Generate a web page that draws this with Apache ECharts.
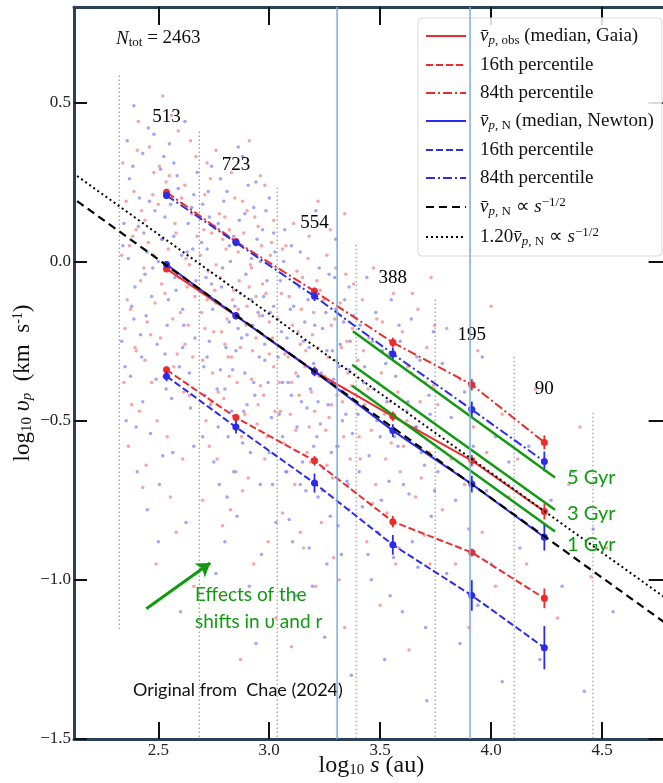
<!DOCTYPE html>
<html><head><meta charset="utf-8">
<script src="https://cdn.jsdelivr.net/npm/echarts@6/dist/echarts.min.js"></script>
<style>html,body{margin:0;padding:0;background:#fff}#c{width:663px;height:783px}</style>
</head><body><div id="c"></div>
<script>
// ---------------- data (log10 s in au, log10 v_p in km/s) ----------------
const binCenters = [2.537, 2.850, 3.204, 3.557, 3.913, 4.240];
const binCounts  = [513, 723, 554, 388, 195, 90];
const countLabelY = [0.454, 0.302, 0.121, -0.053, -0.231, -0.399];

const obsMedian = [-0.023, -0.170, -0.345, -0.486, -0.625, -0.785];
const obsP16    = [-0.340, -0.490, -0.626, -0.817, -0.914, -1.058];
const obsP84    = [0.218, 0.063, -0.093, -0.254, -0.387, -0.568];
const newMedian = [-0.009, -0.170, -0.345, -0.531, -0.699, -0.866];
const newP16    = [-0.360, -0.520, -0.696, -0.890, -1.049, -1.213];
const newP84    = [0.208, 0.060, -0.109, -0.290, -0.465, -0.628];

const obsMedianErr = [0.008, 0.010, 0.012, 0.015, 0.018, 0.025];
const obsP16Err    = [0.010, 0.012, 0.015, 0.018, 0.012, 0.031];
const obsP84Err    = [0.010, 0.010, 0.012, 0.015, 0.018, 0.022];
const newMedianErr = [0.010, 0.012, 0.015, 0.020, 0.026, 0.042];
const newP16Err    = [0.016, 0.020, 0.030, 0.031, 0.048, 0.068];
const newP84Err    = [0.010, 0.012, 0.015, 0.020, 0.025, 0.031];

const powerLaw     = [[2.134, 0.190], [4.800, -1.143]];   // v_N ∝ s^-1/2
const powerLaw120  = [[2.134, 0.269], [4.800, -1.064]];   // 1.20 v_N ∝ s^-1/2

const binEdges   = [2.324, 2.685, 3.036, 3.392, 3.748, 4.104, 4.459];
const edgeTops   = [0.585, 0.409, 0.233, 0.053, -0.119, -0.299, -0.475];
const edgeBottom = [-1.160, -1.5, -1.5, -1.5, -1.5, -1.5, -1.5];

const blueMarkers = [3.306, 3.905];

const gyr5 = [[3.377, -0.219], [4.288, -0.678]];
const gyr3 = [[3.374, -0.324], [4.288, -0.780]];
const gyr1 = [[3.374, -0.390], [4.288, -0.848]];
const gyrLabels = [[4.342, -0.679, '5 Gyr'], [4.342, -0.792, '3 Gyr'], [4.342, -0.890, '1 Gyr']];

const shiftArrow = [[2.446, -1.091], [2.734, -0.947]];

const obsCloud = [
[2.34,0.31],[2.36,-0.12],[2.37,0.05],[2.38,-0.45],[2.39,0.22],[2.40,-0.28],[2.41,0.44],[2.42,-0.06],[2.43,-0.71],[2.44,0.13],[2.45,-0.19],[2.46,0.36],[2.47,-0.38],[2.48,0.02],[2.49,-0.95],[2.50,0.18],[2.51,-0.24],[2.52,0.52],[2.53,-0.10],[2.54,-0.55],[2.55,0.27],[2.56,-0.03],[2.57,-0.33],[2.58,0.09],[2.59,0.41],[2.60,-0.16],[2.61,-0.62],[2.62,0.24],[2.63,-0.08],[2.64,-0.42],[2.65,0.15],[2.66,-1.02],[2.67,0.33],[2.35,-0.21],[2.44,-0.31],[2.52,0.07],[2.58,-0.85],[2.62,-0.26],[2.40,0.10],[2.48,0.28],[2.56,0.46],[2.64,-0.01],
[2.335,0.02],[2.345,-0.38],[2.355,0.19],[2.365,-0.58],[2.375,-0.15],[2.385,0.08],[2.395,-0.27],[2.405,0.35],[2.415,-0.47],[2.425,0.16],[2.435,-0.02],[2.445,-0.64],[2.455,0.06],[2.465,-0.23],[2.475,0.21],[2.485,-0.13],[2.495,-0.50],[2.505,0.30],[2.515,-0.07],[2.525,-0.36],[2.535,0.25],[2.545,0.04],[2.555,-0.74],[2.565,-0.18],[2.575,0.12],[2.585,-0.29],[2.595,-0.05],[2.605,0.20],[2.615,-0.41],[2.625,0.01],[2.635,-0.20],[2.645,0.38],[2.655,-0.30],[2.665,-0.11],[2.675,0.08],
[2.69,0.02],[2.70,-0.31],[2.71,0.21],[2.72,-0.12],[2.73,-0.58],[2.74,0.09],[2.75,-0.22],[2.76,0.35],[2.77,-0.41],[2.78,-0.05],[2.79,-0.83],[2.80,0.14],[2.81,-0.18],[2.82,-0.36],[2.83,0.28],[2.84,-0.09],[2.85,-0.66],[2.86,0.03],[2.87,-0.27],[2.88,0.19],[2.89,-0.48],[2.90,-0.14],[2.91,0.38],[2.92,-0.02],[2.93,-0.95],[2.94,-0.24],[2.95,0.11],[2.96,-0.39],[2.97,-0.07],[2.98,0.24],[2.99,-0.55],[3.00,-0.19],[3.01,0.06],[3.02,-0.33],[3.03,-1.12],[2.70,-0.75],[2.72,0.31],[2.74,-0.44],[2.76,-0.01],[2.78,-1.05],[2.80,-0.26],[2.82,0.10],[2.84,-0.52],[2.86,-0.15],[2.88,-0.72],[2.90,0.16],[2.92,-0.37],[2.94,-0.11],[2.96,0.27],[2.98,-0.62],[3.00,-0.29],[3.02,0.13],[2.71,-0.21],[2.79,0.07],[2.87,-1.25],[2.95,-0.45],[2.83,-0.30],[2.91,-0.08],
[2.695,-0.16],[2.705,0.10],[2.715,-0.50],[2.725,-0.03],[2.735,0.26],[2.745,-0.35],[2.755,-0.09],[2.765,-0.62],[2.775,0.15],[2.785,-0.22],[2.795,-0.43],[2.805,0.04],[2.815,-0.30],[2.825,-0.78],[2.835,-0.12],[2.845,0.20],[2.855,-0.38],[2.865,-0.06],[2.875,-0.55],[2.885,0.09],[2.895,-0.20],[2.905,-0.68],[2.915,-0.01],[2.925,-0.28],[2.935,0.14],[2.945,-0.51],[2.955,-0.17],[2.965,0.05],[2.975,-0.42],[2.985,-0.10],[2.995,-0.88],[3.005,0.02],[3.015,-0.24],[3.025,-0.47],
[3.04,-0.18],[3.05,-0.47],[3.06,0.04],[3.07,-0.29],[3.08,-0.66],[3.09,-0.11],[3.10,-0.38],[3.11,0.12],[3.12,-0.53],[3.13,-0.22],[3.14,-0.85],[3.15,-0.05],[3.16,-0.33],[3.17,-0.60],[3.18,0.08],[3.19,-0.41],[3.20,-0.16],[3.21,-1.02],[3.22,-0.27],[3.23,-0.09],[3.24,-0.72],[3.25,-0.36],[3.26,0.02],[3.27,-0.49],[3.28,-0.20],[3.29,-0.93],[3.30,-0.31],[3.31,-0.58],[3.32,-0.13],[3.33,-0.44],[3.34,0.15],[3.35,-0.25],[3.36,-0.78],[3.37,-0.39],[3.38,-0.07],[3.06,-0.79],[3.10,-1.21],[3.14,-0.26],[3.18,-0.52],[3.22,0.19],[3.26,-0.64],[3.30,-0.02],[3.34,-1.15],[3.12,-0.35],[3.28,-0.45],
[3.045,-0.38],[3.055,-0.10],[3.065,-0.57],[3.075,0.05],[3.085,-0.30],[3.095,-0.48],[3.105,-0.20],[3.115,-0.70],[3.125,-0.03],[3.135,-0.42],[3.145,-0.15],[3.155,-0.90],[3.165,-0.28],[3.175,0.01],[3.185,-0.63],[3.195,-0.23],[3.205,-0.47],[3.215,-0.06],[3.225,-0.36],[3.235,-0.82],[3.245,-0.12],[3.255,-0.53],[3.265,-0.30],[3.275,0.10],[3.285,-0.68],[3.295,-0.18],[3.305,-0.42],[3.315,-1.00],[3.325,-0.27],[3.335,-0.55],[3.345,-0.04],[3.355,-0.35],[3.365,-0.62],[3.375,-0.21],
[3.40,-0.31],[3.41,-0.62],[3.42,-0.12],[3.43,-0.45],[3.44,-0.88],[3.45,-0.24],[3.46,-0.53],[3.47,-0.02],[3.48,-0.70],[3.49,-0.38],[3.50,-1.08],[3.51,-0.19],[3.52,-0.48],[3.53,-0.79],[3.54,-0.29],[3.55,-0.57],[3.56,-0.10],[3.57,-0.95],[3.58,-0.41],[3.59,-0.66],[3.60,-0.22],[3.62,-0.50],[3.63,-1.22],[3.64,-0.35],[3.66,-0.74],[3.67,-0.15],[3.68,-0.44],[3.70,-0.86],[3.71,-0.27],[3.72,-0.60],[3.73,-0.05],[3.74,-0.39],
[3.405,-0.55],[3.425,-0.28],[3.445,-0.40],[3.465,-0.76],[3.485,-0.18],[3.505,-0.35],[3.525,-0.62],[3.545,-0.44],[3.565,-0.25],[3.585,-0.90],[3.605,-0.58],[3.625,-0.33],[3.645,-0.10],[3.665,-0.52],[3.685,-0.68],[3.705,-0.38],[3.725,-0.95],[3.745,-0.20],
[3.76,-0.45],[3.78,-0.78],[3.80,-0.21],[3.82,-0.62],[3.84,-0.95],[3.86,-0.37],[3.88,-0.70],[3.90,-1.15],[3.92,-0.52],[3.94,-0.28],[3.96,-0.85],[3.98,-0.60],[4.00,-0.14],[4.02,-1.02],[4.05,-0.48],[4.08,-0.74],
[4.12,-0.62],[4.16,-0.95],[4.20,-0.40],[4.25,-0.83],[4.30,-1.12],[4.35,-0.70],[4.40,-0.52],[4.45,-0.99],[4.52,-0.90]
];
const newtonCloud = [
[2.34,0.05],[2.35,-0.33],[2.37,0.26],[2.38,-0.14],[2.39,0.49],[2.40,-0.52],[2.41,0.11],[2.42,-0.23],[2.43,0.34],[2.44,-0.04],[2.45,-0.78],[2.46,0.19],[2.47,-0.11],[2.48,0.40],[2.49,-0.37],[2.50,0.00],[2.51,0.29],[2.52,-0.61],[2.53,0.14],[2.54,-0.20],[2.55,0.37],[2.56,-0.43],[2.57,0.08],[2.58,-0.09],[2.59,0.23],[2.60,-1.10],[2.61,-0.27],[2.62,0.44],[2.63,0.03],[2.64,-0.35],[2.65,0.17],[2.66,-0.58],[2.67,-0.06],[2.36,0.38],[2.43,-0.44],[2.50,-0.88],[2.57,0.31],[2.61,-0.15],[2.45,0.03],[2.53,-0.29],[2.66,0.21],[2.39,-0.18],
[2.335,-0.25],[2.345,0.12],[2.355,-0.50],[2.365,0.01],[2.375,-0.36],[2.385,0.30],[2.395,-0.08],[2.405,-0.66],[2.415,0.20],[2.425,-0.30],[2.435,0.09],[2.445,-0.17],[2.455,0.42],[2.465,-0.54],[2.475,-0.02],[2.485,0.16],[2.495,-0.26],[2.505,-0.70],[2.515,0.07],[2.525,0.33],[2.535,-0.40],[2.545,-0.12],[2.555,0.18],[2.565,-0.60],[2.575,-0.05],[2.585,0.27],[2.595,-0.33],[2.605,0.02],[2.615,-0.20],[2.625,-0.82],[2.635,0.12],[2.645,-0.46],[2.655,0.04],[2.665,-0.24],[2.675,0.28],
[2.69,-0.09],[2.70,0.18],[2.71,-0.42],[2.72,0.04],[2.73,-0.25],[2.74,0.30],[2.75,-0.63],[2.76,-0.13],[2.77,0.12],[2.78,-0.34],[2.79,-0.02],[2.80,-0.88],[2.81,0.22],[2.82,-0.19],[2.83,-0.47],[2.84,0.08],[2.85,-0.28],[2.86,0.36],[2.87,-0.10],[2.88,-0.57],[2.89,0.15],[2.90,-0.23],[2.91,-1.02],[2.92,0.01],[2.93,-0.38],[2.94,0.25],[2.95,-0.16],[2.96,-0.70],[2.97,0.10],[2.98,-0.31],[2.99,-0.06],[3.00,0.20],[3.01,-0.49],[3.02,-0.14],[3.03,-0.82],[2.70,-0.55],[2.72,-0.30],[2.74,-0.07],[2.76,-0.98],[2.78,0.26],[2.80,-0.40],[2.82,0.05],[2.84,-0.66],[2.86,-0.21],[2.88,0.33],[2.90,-0.45],[2.92,-0.12],[2.94,-1.20],[2.96,0.00],[2.98,-0.26],[3.00,-0.60],[3.02,0.09],[2.73,0.14],[2.81,-0.74],[2.89,-0.35],[2.97,-0.17],[2.77,-0.52],[2.93,0.17],
[2.695,0.06],[2.705,-0.33],[2.715,-0.05],[2.725,0.22],[2.735,-0.45],[2.745,-0.15],[2.755,0.11],[2.765,-0.40],[2.775,-0.70],[2.785,-0.08],[2.795,0.19],[2.805,-0.27],[2.815,-0.55],[2.825,0.00],[2.835,-0.34],[2.845,-0.14],[2.855,-0.80],[2.865,0.13],[2.875,-0.24],[2.885,-0.47],[2.895,-0.04],[2.905,0.24],[2.915,-0.60],[2.925,-0.20],[2.935,-0.42],[2.945,0.07],[2.955,-0.30],[2.965,-0.92],[2.975,-0.11],[2.985,0.16],[2.995,-0.38],[3.005,-0.16],[3.015,-0.70],[3.025,0.03],
[3.04,-0.30],[3.05,-0.06],[3.06,-0.55],[3.07,0.10],[3.08,-0.24],[3.09,-0.81],[3.10,-0.42],[3.11,-0.14],[3.12,-1.05],[3.13,-0.36],[3.14,0.03],[3.15,-0.63],[3.16,-0.19],[3.17,-0.46],[3.18,-0.90],[3.19,-0.10],[3.20,-0.32],[3.21,0.16],[3.22,-0.74],[3.23,-0.51],[3.24,-0.21],[3.25,-1.18],[3.26,-0.28],[3.27,-0.04],[3.28,-0.60],[3.29,-0.37],[3.30,0.07],[3.31,-0.83],[3.32,-0.26],[3.33,-0.50],[3.34,-0.12],[3.35,-0.69],[3.36,-0.34],[3.37,-1.30],[3.38,-0.17],[3.06,-0.38],[3.10,0.05],[3.14,-0.70],[3.18,-0.27],[3.22,-0.44],[3.26,-0.95],[3.30,-0.15],[3.34,-0.40],[3.20,-0.58],[3.36,-0.08],
[3.045,-0.48],[3.055,-0.22],[3.065,0.00],[3.075,-0.66],[3.085,-0.38],[3.095,-0.15],[3.105,-0.88],[3.115,-0.30],[3.125,-0.52],[3.135,-0.08],[3.145,-0.44],[3.155,-0.25],[3.165,-0.72],[3.175,-0.12],[3.185,-0.40],[3.195,-1.02],[3.205,-0.20],[3.215,-0.55],[3.225,-0.02],[3.235,-0.35],[3.245,-0.65],[3.255,-0.16],[3.265,-0.45],[3.275,-0.80],[3.285,-0.28],[3.295,-0.05],[3.305,-0.58],[3.315,-0.33],[3.325,-0.92],[3.335,-0.19],[3.345,-0.48],[3.355,-0.70],[3.365,-0.25],[3.375,-0.54],
[3.40,-0.48],[3.41,-0.20],[3.42,-0.77],[3.43,-0.33],[3.44,-0.05],[3.45,-0.61],[3.46,-1.00],[3.47,-0.40],[3.48,-0.16],[3.49,-0.85],[3.50,-0.55],[3.51,-0.28],[3.52,-1.25],[3.53,-0.44],[3.54,-0.69],[3.55,-0.12],[3.56,-0.93],[3.57,-0.36],[3.58,-0.58],[3.59,-0.25],[3.60,-1.10],[3.62,-0.47],[3.63,-0.73],[3.64,-0.18],[3.66,-0.52],[3.67,-0.96],[3.68,-0.31],[3.70,-0.64],[3.71,-1.38],[3.72,-0.42],[3.73,-0.80],[3.74,-0.22],
[3.405,-0.66],[3.425,-0.38],[3.445,-0.92],[3.465,-0.25],[3.485,-0.50],[3.505,-0.75],[3.525,-0.32],[3.545,-1.05],[3.565,-0.55],[3.585,-0.20],[3.605,-0.70],[3.625,-0.44],[3.645,-0.88],[3.665,-0.30],[3.685,-0.60],[3.705,-1.15],[3.725,-0.48],[3.745,-0.72],
[3.76,-0.66],[3.78,-0.32],[3.80,-0.98],[3.82,-0.49],[3.84,-0.75],[3.86,-1.20],[3.88,-0.41],[3.90,-0.84],[3.92,-0.58],[3.94,-1.08],[3.96,-0.30],[3.98,-0.72],[4.00,-0.95],[4.02,-0.55],[4.05,-1.32],[4.08,-0.63],
[4.13,-0.90],[4.17,-0.58],[4.22,-1.25],[4.27,-0.75],[4.32,-1.02],[4.37,-0.66],[4.42,-1.35],[4.46,-0.84],[4.55,-1.10]
];

const xTicks = [2.5, 3.0, 3.5, 4.0, 4.5];
const yTicks = [-1.5, -1.0, -0.5, 0.0, 0.5];

// ---------------- styling ----------------
const RED = '#ee2b2b', BLUE = '#2b2bee', GREEN = '#109a10', FRAME = '#2c4058';
const SERIF = 'Liberation Serif', SANS = 'Lato';

const legendText = {
  obsMed: '{g| }{vi|v\u0304}{sbi|p}{sb|, obs} (median, Gaia)',
  obs16: '{g| }16th percentile',
  obs84: '{g| }84th percentile',
  newMed: '{g| }{vi|v\u0304}{sbi|p}{sb|, N} (median, Newton)',
  new16: '{g| }16th percentile',
  new84: '{g| }84th percentile',
  pow: '{g| }{vi|v\u0304}{sbi|p}{sb|, N} \u221D {vi|s}{sp|\u22121/2}',
  pow120: '{g| }1.20{vi|v\u0304}{sbi|p}{sb|, N} \u221D {vi|s}{sp|\u22121/2}'
};

function pctLine(name, ys, color, dash, z) {
  return {
    type: 'line', name, z,
    data: binCenters.map((x, i) => [x, ys[i]]),
    symbol: 'circle', symbolSize: 7, showSymbol: true,
    itemStyle: { color },
    lineStyle: { color, width: 2, type: dash },
    silent: true, animation: false
  };
}
function errBars(xs, ys, es, color, z) {
  return {
    type: 'custom', z, silent: true, animation: false,
    data: xs.map((x, i) => [x, ys[i], es[i]]),
    encode: { x: 0, y: 1 },
    renderItem: (params, api) => {
      const a = api.coord([api.value(0), api.value(1) - api.value(2)]);
      const b = api.coord([api.value(0), api.value(1) + api.value(2)]);
      return { type: 'line', shape: { x1: a[0], y1: a[1], x2: b[0], y2: b[1] },
               style: { stroke: color, lineWidth: 1.8 } };
    }
  };
}
function greenLine(d) {
  return { type: 'line', data: d, symbol: 'none', z: 6, silent: true, animation: false,
           lineStyle: { color: GREEN, width: 2.5 } };
}

const chart = echarts.init(document.getElementById('c'), null, { renderer: 'canvas' });

const tickStyle = { show: true, inside: true, lineStyle: { color: '#111', width: 2 } };

chart.setOption({
  animation: false,
  backgroundColor: '#fff',
  textStyle: { fontFamily: SERIF },
  grid: { left: 74, right: -5.6, top: 7, bottom: 44, containLabel: false, outerBoundsMode: 'none' },
  xAxis: [{
    type: 'value', min: 2.12, max: 4.8, position: 'bottom',
    axisLine: { show: true, onZero: false, lineStyle: { color: FRAME, width: 3 } },
    axisTick: Object.assign({}, tickStyle, { length: 17, customValues: xTicks }),
    axisLabel: { customValues: xTicks, formatter: v => v.toFixed(1), fontFamily: SERIF, fontSize: 17, color: '#222', margin: 3 },
    splitLine: { show: false },
    name: 'log{sb|10} {i|s} (au)', nameLocation: 'middle', nameGap: 15, nameMoveOverlap: false,
    nameTextStyle: { fontFamily: SERIF, fontSize: 24, color: '#111',
      rich: { sb: { fontFamily: SERIF, fontSize: 15, padding: [9, 0, 0, 0] },
              i: { fontFamily: SERIF, fontSize: 24, fontStyle: 'italic' } } }
  }, {
    type: 'value', min: 2.12, max: 4.8, position: 'top',
    axisLine: { show: true, onZero: false, lineStyle: { color: FRAME, width: 3 } },
    axisTick: Object.assign({}, tickStyle, { length: 18, customValues: xTicks }),
    axisLabel: { show: false }, splitLine: { show: false }
  }],
  yAxis: [{
    type: 'value', min: -1.5, max: 0.8, position: 'left',
    axisLine: { show: true, onZero: false, lineStyle: { color: FRAME, width: 3 } },
    axisTick: Object.assign({}, tickStyle, { length: 13, customValues: yTicks }),
    axisLabel: { customValues: yTicks, formatter: v => v.toFixed(1).replace('-', '\u2212'),
                 fontFamily: SERIF, fontSize: 17, color: '#222', margin: 3 },
    splitLine: { show: false },
    name: 'log{sb|10} {i|\u03C5}{sbi|p}  (km  s{sp|-1})', nameLocation: 'middle', nameGap: 39, nameRotate: 90,
    nameMoveOverlap: false,
    nameTextStyle: { fontFamily: SERIF, fontSize: 23, color: '#111', padding: [0, 20, 0, 0],
      rich: { sb: { fontFamily: SERIF, fontSize: 15, padding: [9, 0, 0, 0] },
              sbi: { fontFamily: SERIF, fontSize: 15, fontStyle: 'italic', padding: [9, 0, 0, 0] },
              sp: { fontFamily: SERIF, fontSize: 14, padding: [0, 0, 10, 0] },
              i: { fontFamily: SERIF, fontSize: 24, fontStyle: 'italic' } } }
  }, {
    type: 'value', min: -1.5, max: 0.8, position: 'right',
    axisLine: { show: false },
    axisTick: Object.assign({}, tickStyle, { length: 20, customValues: yTicks }),
    axisLabel: { show: false }, splitLine: { show: false }
  }],
  legend: {
    orient: 'vertical', left: 418, top: 18,
    padding: [8, 8, 8, 7], itemWidth: 40, itemHeight: 14, itemGap: 8,
    backgroundColor: 'rgba(255,255,255,0.85)', borderColor: '#d9d9d9', borderWidth: 1, borderRadius: 4,
    itemStyle: { opacity: 0 },
    data: ['obsMed', 'obs16', 'obs84', 'newMed', 'new16', 'new84', 'pow', 'pow120'],
    formatter: n => legendText[n],
    selectedMode: false,
    textStyle: { fontFamily: SERIF, fontSize: 19, color: '#111', lineHeight: 20,
      rich: {
        g: { width: 9 },
        vi: { fontFamily: SERIF, fontSize: 19, fontStyle: 'italic' },
        sbi: { fontFamily: SERIF, fontSize: 13, fontStyle: 'italic', padding: [9, 0, 0, 0] },
        sb: { fontFamily: SERIF, fontSize: 13, padding: [9, 0, 0, 0] },
        sp: { fontFamily: SERIF, fontSize: 13, padding: [0, 0, 9, 0] }
      } }
  },
  graphic: [
    { type: 'text', left: 116, top: 29, silent: true,
      style: { text: '{i|N}{sb|tot} = 2463', fill: '#111', font: '19px "Liberation Serif"',
        rich: { i: { fontFamily: SERIF, fontSize: 19, fontStyle: 'italic' },
                sb: { fontFamily: SERIF, fontSize: 13, padding: [9, 0, 0, 0] } } } },
    { type: 'text', left: 195, top: 581, silent: true,
      style: { text: 'Effects of the\nshifts in \u03C5 and r', fill: GREEN, font: '19px Lato', lineHeight: 27 } },
    { type: 'text', left: 133, top: 681, silent: true,
      style: { text: 'Original from  Chae (2024)', fill: '#111', font: '18px Lato' } }
  ],
  series: [
    { type: 'scatter', data: obsCloud, symbolSize: 3.5, silent: true, z: 1,
      itemStyle: { color: 'rgba(240,90,90,0.55)', opacity: 1 } },
    { type: 'scatter', data: newtonCloud, symbolSize: 3.5, silent: true, z: 1,
      itemStyle: { color: 'rgba(90,90,240,0.55)', opacity: 1 } },
    { type: 'custom', silent: true, z: 1, animation: false,
      data: binEdges.map((x, i) => [x, edgeTops[i], edgeBottom[i]]),
      encode: { x: 0, y: 1 },
      renderItem: (params, api) => {
        const a = api.coord([api.value(0), api.value(1)]);
        const b = api.coord([api.value(0), api.value(2)]);
        return { type: 'line', shape: { x1: a[0], y1: a[1], x2: b[0], y2: b[1] },
                 style: { stroke: '#9a9a9a', lineWidth: 1.2, lineDash: [1.5, 2.5] } };
      } },
    { type: 'custom', silent: true, z: 10, animation: false,
      data: blueMarkers.map(x => [x, 0]),
      encode: { x: 0, y: 1 },
      renderItem: (params, api) => {
        const a = api.coord([api.value(0), 0]);
        const cs = params.coordSys;
        return { type: 'line', shape: { x1: a[0], y1: cs.y, x2: a[0], y2: cs.y + cs.height },
                 style: { stroke: '#78aee2', lineWidth: 1.5 } };
      } },
    pctLine('obsMed', obsMedian, RED, 'solid', 3),
    pctLine('obs16', obsP16, RED, [7, 3], 3),
    pctLine('obs84', obsP84, RED, [9, 3, 2, 3], 3),
    errBars(binCenters, obsMedian, obsMedianErr, RED, 3),
    errBars(binCenters, obsP16, obsP16Err, RED, 3),
    errBars(binCenters, obsP84, obsP84Err, RED, 3),
    pctLine('newMed', newMedian, BLUE, 'solid', 4),
    pctLine('new16', newP16, BLUE, [7, 3], 4),
    pctLine('new84', newP84, BLUE, [9, 3, 2, 3], 4),
    errBars(binCenters, newMedian, newMedianErr, BLUE, 4),
    errBars(binCenters, newP16, newP16Err, BLUE, 4),
    errBars(binCenters, newP84, newP84Err, BLUE, 4),
    { type: 'line', name: 'pow', data: powerLaw, symbol: 'none', z: 5, silent: true,
      itemStyle: { color: '#000' }, lineStyle: { color: '#000', width: 2.2, type: [8, 5] } },
    { type: 'line', name: 'pow120', data: powerLaw120, symbol: 'none', z: 5, silent: true,
      itemStyle: { color: '#000' }, lineStyle: { color: '#000', width: 2, type: [2, 3] } },
    greenLine(gyr5), greenLine(gyr3), greenLine(gyr1),
    { type: 'scatter', data: gyrLabels, symbolSize: 0, silent: true, z: 6,
      itemStyle: { color: 'transparent', opacity: 1 },
      label: { show: true, position: 'inside', align: 'left', verticalAlign: 'middle',
               formatter: p => p.value[2], fontFamily: SANS, fontSize: 20, color: GREEN,
               textBorderWidth: 0, opacity: 1 } },
    { type: 'scatter', data: binCenters.map((x, i) => [x, countLabelY[i], binCounts[i]]),
      symbolSize: 0, silent: true, z: 6,
      itemStyle: { color: 'transparent', opacity: 1 },
      label: { show: true, position: 'inside', formatter: p => String(p.value[2]),
               fontFamily: SERIF, fontSize: 19, color: '#000', textBorderWidth: 0, opacity: 1 } },
    { type: 'lines', coordinateSystem: 'cartesian2d', silent: true, z: 6,
      symbol: ['none', 'arrow'], symbolSize: 13,
      lineStyle: { color: GREEN, width: 3, opacity: 1 },
      data: [{ coords: shiftArrow }] }
  ]
});
</script></body></html>
